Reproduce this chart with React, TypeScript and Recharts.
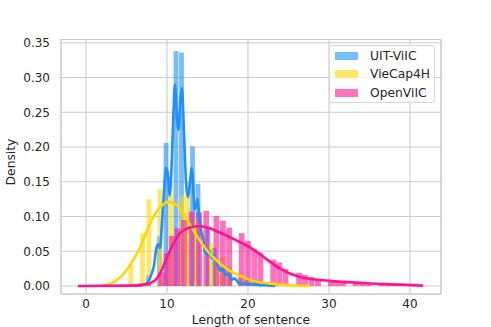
import React from 'react';
import {
  ComposedChart,
  Bar,
  Line,
  XAxis,
  YAxis,
  CartesianGrid,
  Legend,
  ReferenceArea,
} from 'recharts';

const seriesNames = ['UIT-ViIC', 'VieCap4H', 'OpenViIC'];
const lineColors = ['#1e90ff', '#ffd700', '#ff1493'];
const patchColors = ['#78bcff', '#ffe766', '#ff72be'];

const xTicks = [0, 10, 20, 30, 40];
const yTicks = [0, 0.05, 0.1, 0.15, 0.2, 0.25, 0.3, 0.35];

// histogram bins (bin centre -> density)
const uitBinCenters = [6.73, 7.72, 9.07, 9.88, 11.11, 11.79, 13.15, 13.83, 15.06, 15.8, 17.04, 17.78, 19.0, 19.75, 21.0, 21.7];
const uitBinDensity = [0.004, 0.016, 0.072, 0.206, 0.338, 0.336, 0.201, 0.147, 0.085, 0.055, 0.03, 0.02, 0.012, 0.008, 0.005, 0.003];

const vieBinCenters = [5.56, 6.98, 7.78, 9.14, 10.49, 11.9, 12.53, 13.6, 15.4, 16.2, 16.9, 17.7, 19.0, 19.8, 21.0, 22.4, 23.6, 25.0];
const vieBinDensity = [0.03, 0.076, 0.125, 0.14, 0.15, 0.13, 0.15, 0.095, 0.062, 0.035, 0.042, 0.028, 0.018, 0.012, 0.008, 0.005, 0.003, 0.002];

const openBinCenters = [
  7.65, 9.3, 9.95, 10.6, 11.3, 12.1, 13.05, 13.97, 14.85, 16.1, 16.9, 17.68, 19.23, 20.0, 20.78, 21.54,
  23.12, 23.85, 24.63, 26.32, 27.04, 27.84, 28.64, 30.25, 30.99, 31.73, 33.3, 34.1, 34.9, 36.5, 37.3, 38.1,
  39.7, 40.5, 41.3,
];
const openBinDensity = [
  0.002, 0.02, 0.047, 0.072, 0.083, 0.095, 0.107, 0.106, 0.108, 0.101, 0.094, 0.084, 0.076, 0.065, 0.053, 0.048,
  0.038, 0.034, 0.025, 0.019, 0.016, 0.013, 0.01, 0.008, 0.007, 0.006, 0.004, 0.004, 0.003, 0.003, 0.002, 0.002,
  0.001, 0.001, 0.001,
];

// kde curves
const uitKdeX = [
  6.05, 6.91, 7.65, 8.02, 8.4, 8.7, 8.95, 9.14, 9.38, 9.63, 9.88, 10.12, 10.31, 10.56, 10.8, 10.99, 11.23,
  11.42, 11.67, 11.85, 12.1, 12.35, 12.59, 12.84, 13.05, 13.21, 13.4, 13.58, 13.77, 13.95, 14.2, 14.51, 14.69,
  14.94, 15.12, 15.31, 15.56, 15.8, 16.17, 16.6, 16.91, 17.22, 17.53, 18.02, 18.33, 18.89, 19.88, 20.86, 22.1, 23.33,
];
const uitKdeY = [
  0, 0.001, 0.006, 0.015, 0.03, 0.055, 0.06, 0.055, 0.09, 0.135, 0.17, 0.16, 0.13, 0.17, 0.25, 0.29, 0.24,
  0.225, 0.27, 0.285, 0.22, 0.15, 0.128, 0.15, 0.17, 0.15, 0.11, 0.115, 0.125, 0.105, 0.08, 0.066, 0.05,
  0.045, 0.052, 0.048, 0.04, 0.045, 0.033, 0.022, 0.026, 0.016, 0.018, 0.009, 0.011, 0.004, 0.003, 0.002, 0.001, 0,
];

const vieKdeX = [1.73, 2.96, 4.2, 5.43, 6.67, 7.9, 9.14, 10.1, 11.36, 12.6, 13.8, 15.1, 16.3, 17.5, 18.8, 20.2, 21.7, 23.3, 25.2, 27.7];
const vieKdeY = [0, 0.003, 0.012, 0.03, 0.055, 0.09, 0.113, 0.121, 0.115, 0.093, 0.07, 0.049, 0.035, 0.024, 0.016, 0.009, 0.005, 0.003, 0.001, 0];

const openKdeX = [-1, 5.43, 7.28, 8.52, 9.14, 9.75, 10.37, 10.99, 11.6, 12.59, 13.83, 15.06, 16.3, 18.15, 20.74, 22.35, 23.95, 26.42, 30.49, 34.69, 38.77, 41.6];
const openKdeY = [0, 0.0005, 0.002, 0.008, 0.018, 0.034, 0.051, 0.065, 0.076, 0.083, 0.086, 0.084, 0.078, 0.068, 0.052, 0.038, 0.025, 0.013, 0.007, 0.004, 0.002, 0.0005];

const X_DOMAIN: [number, number] = [-3.086, 43.83];
const Y_DOMAIN: [number, number] = [-0.0115, 0.3547];

const FONT = '"DejaVu Sans", sans-serif';
const TEXT = '#262626';

const zip = (xs: number[], ys: number[]) => xs.map((x, i) => ({ x, y: ys[i] }));

// one row per bin; all bars share a stack so they sit on the x value instead of side by side
const barRows = [
  ...uitBinCenters.map((x, i) => ({ x, uit: uitBinDensity[i] })),
  ...vieBinCenters.map((x, i) => ({ x, vie: vieBinDensity[i] })),
  ...openBinCenters.map((x, i) => ({ x, open: openBinDensity[i] })),
];

// recharts squeezes the band to the closest pair of bins, so draw a fixed width around the centre
const binShape = (w: number) => (props: any) => {
  const { x, y, width, height, fill } = props;
  if (!height || height <= 0) return <g />;
  const cx = x + width / 2;
  return <rect x={cx - w / 2} y={y} width={w} height={height} fill={fill} fillOpacity={0.6} />;
};

const renderLegend = () => (
  <div
    style={{
      boxSizing: 'border-box',
      width: 106,
      height: 58,
      border: '1px solid #d6d6d6',
      borderRadius: 3,
      background: 'rgba(255,255,255,0.8)',
      padding: '1px 0 0 5px',
      fontFamily: FONT,
      fontSize: 12.3,
      color: TEXT,
    }}
  >
    {seriesNames.map((name, i) => (
      <div key={name} style={{ display: 'flex', alignItems: 'center', height: 18.3 }}>
        <span style={{ display: 'inline-block', width: 23, height: 8, background: patchColors[i], marginRight: 12 }} />
        <span>{name}</span>
      </div>
    ))}
  </div>
);

const tickStyle = { fill: TEXT, fontSize: 12, fontFamily: FONT };

export default function App() {
  return (
    <div style={{ position: 'absolute', left: 0, top: 0, background: '#fff' }}>
      <ComposedChart
        width={491}
        height={327}
        data={barRows}
        margin={{ top: 39.5, right: 50, bottom: 0, left: 0 }}
      >
        <CartesianGrid stroke="#cccccc" strokeWidth={1.1} />
        <XAxis
          dataKey="x"
          type="number"
          domain={X_DOMAIN}
          ticks={xTicks}
          allowDataOverflow
          height={33}
          axisLine={false}
          tickLine={false}
          tickSize={3}
          tickMargin={2}
          tick={tickStyle}
          label={{
            content: () => (
              <text x={251} y={323.5} textAnchor="middle" fontFamily={FONT} fontSize={12.3} fill={TEXT}>
                Length of sentence
              </text>
            ),
          }}
        />
        <YAxis
          type="number"
          domain={Y_DOMAIN}
          ticks={yTicks}
          allowDataOverflow
          width={61}
          axisLine={false}
          tickLine={false}
          tickSize={6}
          tickMargin={5}
          tick={tickStyle}
          tickFormatter={(v: number) => v.toFixed(2)}
          label={{
            content: () => (
              <text
                x={15}
                y={162}
                transform="rotate(-90 15 162)"
                textAnchor="middle"
                fontFamily={FONT}
                fontSize={12.3}
                fill={TEXT}
              >
                Density
              </text>
            ),
          }}
        />
        <ReferenceArea
          x1={X_DOMAIN[0]}
          x2={X_DOMAIN[1]}
          y1={Y_DOMAIN[0]}
          y2={Y_DOMAIN[1]}
          fill="none"
          stroke="#cccccc"
          strokeWidth={1.2}
          ifOverflow="visible"
        />
        <Bar dataKey="uit" stackId="h" fill={lineColors[0]} shape={binShape(4.8)} isAnimationActive={false} />
        <Bar dataKey="vie" stackId="h" fill={lineColors[1]} shape={binShape(4.8)} isAnimationActive={false} />
        <Bar dataKey="open" stackId="h" fill={lineColors[2]} shape={binShape(5.8)} isAnimationActive={false} />
        <Line
          data={zip(uitKdeX, uitKdeY)}
          dataKey="y"
          type="monotone"
          stroke={lineColors[0]}
          strokeWidth={2.6}
          dot={false}
          activeDot={false}
          isAnimationActive={false}
        />
        <Line
          data={zip(vieKdeX, vieKdeY)}
          dataKey="y"
          type="monotone"
          stroke={lineColors[1]}
          strokeWidth={2.6}
          dot={false}
          activeDot={false}
          isAnimationActive={false}
        />
        <Line
          data={zip(openKdeX, openKdeY)}
          dataKey="y"
          type="monotone"
          stroke={lineColors[2]}
          strokeWidth={2.6}
          dot={false}
          activeDot={false}
          isAnimationActive={false}
        />
        <Legend
          content={renderLegend}
          layout="horizontal"
          verticalAlign="middle"
          align="center"
          wrapperStyle={{ left: 329, top: 45, width: 106, height: 58 }}
        />
      </ComposedChart>
    </div>
  );
}
